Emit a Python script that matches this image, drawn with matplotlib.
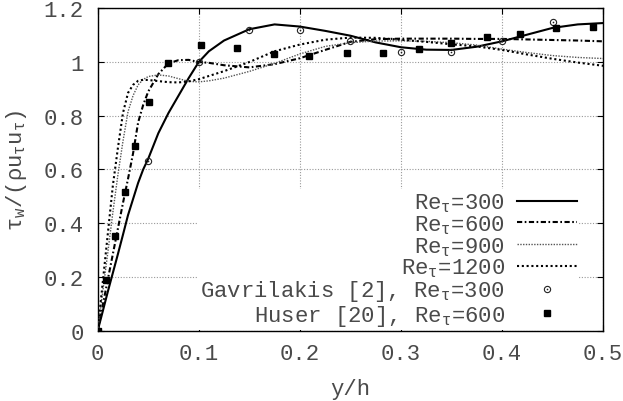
import matplotlib
matplotlib.use("Agg")
import matplotlib.pyplot as plt
from matplotlib.legend_handler import HandlerTuple

plt.rcParams['font.family'] = ['Liberation Mono', 'DejaVu Sans']
plt.rcParams['mathtext.fontset'] = 'custom'
plt.rcParams['mathtext.rm'] = 'Liberation Mono'
plt.rcParams['mathtext.it'] = 'Liberation Mono'
plt.rcParams['mathtext.bf'] = 'Liberation Mono:bold'
plt.rcParams['mathtext.sf'] = 'Liberation Mono'

# ---- data ----
x_grid = [0, 0.005, 0.01, 0.015, 0.02, 0.025, 0.03, 0.035, 0.04, 0.045, 0.05,
          0.06, 0.07, 0.08, 0.09, 0.1, 0.11, 0.125, 0.15, 0.175, 0.2, 0.225,
          0.25, 0.275, 0.3, 0.325, 0.35, 0.375, 0.4, 0.425, 0.45, 0.475, 0.5]

re300 = [0, 0.072, 0.145, 0.215, 0.285, 0.357, 0.43, 0.49, 0.55, 0.60, 0.64,
         0.735, 0.81, 0.875, 0.94, 1.0, 1.04, 1.08, 1.122, 1.14, 1.132, 1.116,
         1.098, 1.073, 1.055, 1.046, 1.045, 1.057, 1.077, 1.102, 1.127, 1.14, 1.145]

re600 = [0, 0.095, 0.19, 0.285, 0.38, 0.475, 0.565, 0.66, 0.775, 0.84, 0.89,
         0.955, 0.995, 1.007, 1.008, 1.0, 0.997, 0.988, 0.98, 0.992, 1.014, 1.045,
         1.075, 1.085, 1.087, 1.087, 1.087, 1.086, 1.086, 1.084, 1.082, 1.08, 1.077]

re900 = [0, 0.145, 0.29, 0.44, 0.58, 0.705, 0.815, 0.875, 0.915, 0.935, 0.946,
         0.952, 0.948, 0.938, 0.928, 0.926, 0.93, 0.94, 0.965, 0.995, 1.03, 1.058,
         1.072, 1.078, 1.079, 1.077, 1.072, 1.063, 1.048, 1.035, 1.024, 1.017, 1.013]

re1200 = [0, 0.18, 0.36, 0.54, 0.68, 0.81, 0.885, 0.915, 0.93, 0.934, 0.933,
          0.929, 0.925, 0.924, 0.928, 0.936, 0.948, 0.966, 1.0, 1.04, 1.065, 1.083,
          1.091, 1.09, 1.083, 1.075, 1.066, 1.058, 1.045, 1.028, 1.012, 0.998, 0.986]

gav_x = [0, 0.05, 0.1, 0.15, 0.2, 0.25, 0.3, 0.35, 0.4, 0.45]
gav_y = [0, 0.63, 1.0, 1.12, 1.12, 1.08, 1.036, 1.038, 1.08, 1.15]

hus_x = [0, 0.0082, 0.0171, 0.0266, 0.0365, 0.0507, 0.0695, 0.102, 0.1376, 0.174,
         0.2095, 0.247, 0.282, 0.3175, 0.35, 0.3854, 0.418, 0.4535, 0.49]
hus_y = [0, 0.19, 0.354, 0.517, 0.689, 0.852, 0.997, 1.064, 1.052, 1.031,
         1.024, 1.032, 1.035, 1.048, 1.072, 1.094, 1.103, 1.128, 1.131]

x_ticks = [0, 0.1, 0.2, 0.3, 0.4, 0.5]
x_ticklabels = ["0", "0.1", "0.2", "0.3", "0.4", "0.5"]
y_ticks = [0, 0.2, 0.4, 0.6, 0.8, 1.0, 1.2]
y_ticklabels = ["0", "0.2", "0.4", "0.6", "0.8", "1", "1.2"]

labels = [r"Re$_{\tau}$=300", r"Re$_{\tau}$=600", r"Re$_{\tau}$=900",
          r"Re$_{\tau}$=1200", r"Gavrilakis [2], Re$_{\tau}$=300",
          r"Huser [20], Re$_{\tau}$=600"]

FS = 16
TXT = '#4a4a4a'

# ---- figure ----
fig = plt.figure(figsize=(6.23, 4.02), dpi=100)
ax = fig.add_axes([0.1568, 0.1749, 0.8112, 0.802])

l1, = ax.plot(x_grid, re300, color='black', lw=1.5, zorder=3)
l2, = ax.plot(x_grid, re600, color='black', lw=1.5, dashes=[2.5, 1.2, 0.8, 1.2], zorder=3)
l3, = ax.plot(x_grid, re900, color='#555555', lw=1.0, dashes=[1, 1], zorder=3)
l4, = ax.plot(x_grid, re1200, color='black', lw=1.5, dashes=[1, 1.3], zorder=3)
m1, = ax.plot(gav_x, gav_y, ls='none', marker='o', ms=4.5, mfc='none', mec='#222222', mew=0.8, zorder=4)
m1d, = ax.plot(gav_x, gav_y, ls='none', marker='o', ms=1.2, mfc='#222222', mec='none', zorder=4)
m2, = ax.plot(hus_x, hus_y, ls='none', marker='s', ms=4.5, mfc='black', mec='black', zorder=5)

ax.set_xlim(0, 0.5)
ax.set_ylim(0, 1.2)
ax.set_xticks(x_ticks)
ax.set_xticklabels(x_ticklabels)
ax.set_yticks(y_ticks)
ax.set_yticklabels(y_ticklabels)
ax.tick_params(direction='in', length=4.5, width=0.8, top=True, right=True,
               labelsize=FS, labelcolor=TXT)
ax.tick_params(axis='y', pad=10)
ax.tick_params(axis='x', pad=9)
for s in ax.spines.values():
    s.set_linewidth(1.0)
    s.set_color('black')

ax.grid(True, color='#999999', lw=0.8, linestyle=(0, (1, 1.5)), zorder=0)
ax.set_axisbelow(True)

ax.set_xlabel("y/h", fontsize=FS, color=TXT, labelpad=10)
ax.set_ylabel(r"$\tau_{w}/(\rho u_{\tau}u_{\tau})$", fontsize=FS, color=TXT)
ax.yaxis.set_label_coords(-0.135, 0.5)

leg = ax.legend([l1, l2, l3, l4, (m1, m1d), m2], labels,
                handler_map={tuple: HandlerTuple(ndivide=1, pad=0)},
                loc='lower right', bbox_to_anchor=(0.953, 0.003),
                fontsize=FS, markerfirst=False, frameon=True, fancybox=False,
                framealpha=1, facecolor='white', edgecolor='none',
                handlelength=2.7, handletextpad=0.55, labelspacing=-0.04,
                borderpad=0.1, borderaxespad=0)
for t in leg.get_texts():
    t.set_color(TXT)

fig.savefig("out.png", dpi=100)
